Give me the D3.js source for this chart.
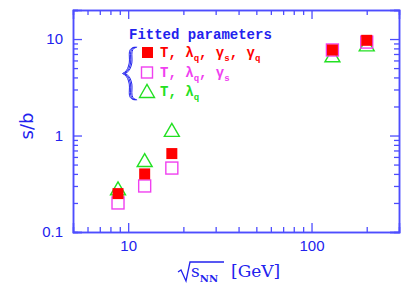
<!DOCTYPE html>
<html>
<head>
<meta charset="utf-8">
<script src="https://cdn.jsdelivr.net/npm/d3@7"></script>
<style>
  body { margin: 0; background: #fff; }
  svg { display: block; }
</style>
</head>
<body>
<div id="chart"><svg width="409" height="290"></svg></div>
<script>
// data
var energies = [8.8, 12.3, 17.3, 130, 200];
var fullFit = [0.25, 0.40, 0.65, 7.7, 9.7];      // T, lq, gs, gq
var gsFit = [0.20, 0.30, 0.46, 7.7, 9.3];        // T, lq, gs
var tlFit = [0.28, 0.55, 1.13, 6.7, 8.7];        // T, lq
var xMajor = [10, 100];
var xMinor = [6, 7, 8, 9, 20, 30, 40, 50, 60, 70, 80, 90, 200];
var yMajor = [0.1, 1, 10];
var yMinor = [0.2, 0.3, 0.4, 0.5, 0.6, 0.7, 0.8, 0.9, 2, 3, 4, 5, 6, 7, 8, 9, 20];

var axisCol = "#4d4dff";
var textCol = "#2222ee";
var red = "#ff0000", magenta = "#f040f0", green = "#22e022";

var svg = d3.select("#chart").select("svg");
var margin = { top: 10, right: 10, bottom: 58, left: 73 };
var width = +svg.attr("width") - margin.left - margin.right;
var height = +svg.attr("height") - margin.top - margin.bottom;

var g = svg.append("g")
  .attr("transform", "translate(" + margin.left + "," + margin.top + ")");

var x = d3.scaleLog().domain([5, 300]).range([0, width]);
var y = d3.scaleLog().domain([0.1, 20]).range([height, 0]);

function styleAxis(sel) {
  sel.select(".domain").attr("stroke", axisCol).attr("stroke-width", 1.5);
  sel.selectAll(".tick line").attr("stroke", axisCol).attr("stroke-width", 1.3);
  sel.selectAll(".tick text").attr("fill", textCol)
    .style("font-family", "Liberation Sans").style("font-size", "15px");
}

// bottom
g.append("g").attr("transform", "translate(0," + height + ")")
  .call(d3.axisBottom(x).tickValues(xMinor).tickSize(-5).tickFormat(""))
  .call(styleAxis);
g.append("g").attr("transform", "translate(0," + height + ")")
  .call(d3.axisBottom(x).tickValues(xMajor).tickSize(-9).tickPadding(8).tickFormat(d3.format("d")))
  .call(styleAxis);
// top
g.append("g")
  .call(d3.axisTop(x).tickValues(xMinor).tickSize(-5).tickFormat(""))
  .call(styleAxis);
g.append("g")
  .call(d3.axisTop(x).tickValues(xMajor).tickSize(-9).tickFormat(""))
  .call(styleAxis);
// left
g.append("g")
  .call(d3.axisLeft(y).tickValues(yMinor).tickSize(-5).tickFormat(""))
  .call(styleAxis);
g.append("g")
  .call(d3.axisLeft(y).tickValues(yMajor).tickSize(-9).tickPadding(10).tickFormat(d3.format("")))
  .call(styleAxis);
// right
g.append("g").attr("transform", "translate(" + width + ",0)")
  .call(d3.axisRight(y).tickValues(yMinor).tickSize(-5).tickFormat(""))
  .call(styleAxis);
g.append("g").attr("transform", "translate(" + width + ",0)")
  .call(d3.axisRight(y).tickValues(yMajor).tickSize(-9).tickFormat(""))
  .call(styleAxis);

// markers
var sq = 12;

function triangle(sel, cx, cy, col) {
  sel.append("path")
    .attr("d", "M" + (cx - 7.5) + "," + (cy + 6) + "L" + cx + "," + (cy - 7) + "L" + (cx + 7.5) + "," + (cy + 6) + "Z")
    .attr("fill", "none").attr("stroke", col).attr("stroke-width", 1.4);
}

var pts = g.append("g");
energies.forEach(function(e, i) {
  triangle(pts, x(e), y(tlFit[i]), green);
});
energies.forEach(function(e, i) {
  pts.append("rect")
    .attr("x", x(e) - sq / 2).attr("y", y(gsFit[i]) - sq / 2)
    .attr("width", sq).attr("height", sq)
    .attr("fill", "none").attr("stroke", magenta).attr("stroke-width", 1.4);
});
energies.forEach(function(e, i) {
  pts.append("rect")
    .attr("x", x(e) - 5.5).attr("y", y(fullFit[i]) - 5.5)
    .attr("width", 11).attr("height", 11)
    .attr("fill", red);
});

// legend
var mono = "Liberation Mono";
svg.append("text")
  .attr("x", 129).attr("y", 39)
  .attr("fill", textCol)
  .style("font-family", mono).style("font-size", "14px").style("font-weight", "bold")
  .text("Fitted parameters");

// curly brace, drawn three times for the wavy triple stroke
var brace = "M136,47 C127,49 133,58 130,66 C129,70 127,72 124,73.5 C127,75 129,77 130,81 C133,89 127,98 136,100";
[0, 1.3, 2.6].forEach(function(dx) {
  svg.append("path").attr("d", brace)
    .attr("transform", "translate(" + (dx - 1.5) + ",0)")
    .attr("fill", "none").attr("stroke", textCol).attr("stroke-width", 1);
});

var rows = [
  { col: red, y: 57, parts: [["T, ", ""], ["λ", ""], ["q", "sub"], [", ", ""], ["γ", ""], ["s", "sub"], [", ", ""], ["γ", ""], ["q", "sub"]] },
  { col: magenta, y: 77, parts: [["T, ", ""], ["λ", ""], ["q", "sub"], [", ", ""], ["γ", ""], ["s", "sub"]] },
  { col: green, y: 96, parts: [["T, ", ""], ["λ", ""], ["q", "sub"]] }
];

rows.forEach(function(r, i) {
  var cy = r.y - 4.5;
  if (i == 0) {
    svg.append("rect").attr("x", 142).attr("y", cy - 5.5).attr("width", 11).attr("height", 11).attr("fill", red);
  } else if (i == 1) {
    svg.append("rect").attr("x", 141.5).attr("y", cy - 5.5).attr("width", 11).attr("height", 11)
      .attr("fill", "none").attr("stroke", magenta).attr("stroke-width", 1.4);
  } else {
    triangle(svg, 147, cy, green);
  }
  var t = svg.append("text")
    .attr("x", 160).attr("y", r.y)
    .attr("fill", r.col)
    .style("font-family", mono).style("font-size", "14px").style("font-weight", "bold");
  r.parts.forEach(function(p, j) {
    var prev = j > 0 ? r.parts[j - 1][1] : "";
    var dy = 0;
    if (p[1] == "sub" && prev != "sub") dy = 4;
    if (p[1] != "sub" && prev == "sub") dy = -4;
    var ts = t.append("tspan").attr("dy", dy).text(p[0]);
    if (p[1] == "sub") ts.style("font-size", "9px");
  });
});

// axis titles
svg.append("text")
  .attr("transform", "translate(33,126) rotate(-90)")
  .attr("text-anchor", "middle")
  .attr("fill", textCol)
  .style("font-family", "DejaVu Sans").style("font-size", "18px")
  .text("s/b");

// radical sign for sqrt(s_NN)
svg.append("path")
  .attr("d", "M178,272 L181,270 L186,281 L190,262 L224,262")
  .attr("fill", "none").attr("stroke", textCol).attr("stroke-width", 1.3);

var xt = svg.append("text")
  .attr("x", 191).attr("y", 277)
  .attr("fill", textCol)
  .style("font-family", "DejaVu Serif").style("font-size", "17px");
xt.append("tspan").text("s");
xt.append("tspan").attr("dy", 5).style("font-size", "10px").style("font-weight", "bold").text("NN");
xt.append("tspan").attr("dy", -5).attr("x", 231).text("[GeV]");
</script>
</body>
</html>
